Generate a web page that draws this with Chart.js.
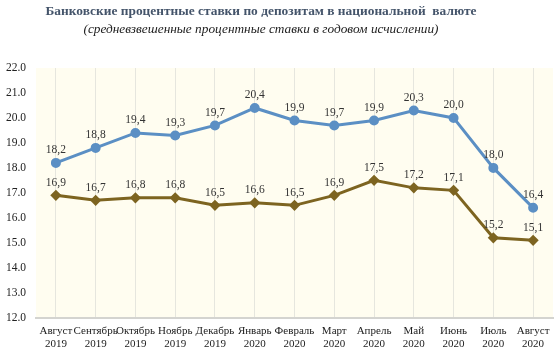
<!DOCTYPE html>
<html>
<head>
<meta charset="utf-8">
<script src="https://cdn.jsdelivr.net/npm/chart.js@4.4.0/dist/chart.umd.min.js"></script>
<style>
  html, body { margin: 0; padding: 0; background: #fff; }
  #wrap { width: 560px; height: 362px; }
</style>
</head>
<body>
<div id="wrap"><canvas id="myChart"></canvas></div>
<script>
// data
const months = [
  ["Август", "2019"], ["Сентябрь", "2019"], ["Октябрь", "2019"], ["Ноябрь", "2019"],
  ["Декабрь", "2019"], ["Январь", "2020"], ["Февраль", "2020"], ["Март", "2020"],
  ["Апрель", "2020"], ["Май", "2020"], ["Июнь", "2020"], ["Июль", "2020"], ["Август", "2020"]
];
const seriesBlue = [18.2, 18.8, 19.4, 19.3, 19.7, 20.4, 19.9, 19.7, 19.9, 20.3, 20.0, 18.0, 16.4];
const seriesBrown = [16.9, 16.7, 16.8, 16.8, 16.5, 16.6, 16.5, 16.9, 17.5, 17.2, 17.1, 15.2, 15.1];
const yMin = 12;
const yMax = 22;
const titleText = "Банковские процентные ставки по депозитам в национальной  валюте";
const subtitleText = "(средневзвешенные процентные ставки в годовом исчислении)";

const serif = "Liberation Serif";

// cream plot background
const plotBg = {
  id: "plotBg",
  beforeDraw(chart) {
    const { ctx, chartArea: a } = chart;
    ctx.save();
    ctx.fillStyle = "#FFFDF0";
    ctx.fillRect(a.left, a.top, a.right - a.left, a.bottom - a.top);
    ctx.restore();
  },
};

// heading, centred a bit left of the canvas middle like the original
const heading = {
  id: "heading",
  afterDraw(chart) {
    const { ctx } = chart;
    ctx.save();
    ctx.textAlign = "center";
    ctx.textBaseline = "middle";
    ctx.fillStyle = "#44546A";
    ctx.font = "bold 13.4px " + serif;
    ctx.fillText(titleText, 261, 12);
    ctx.fillStyle = "#222222";
    ctx.font = "italic 13.3px " + serif;
    ctx.fillText(subtitleText, 261, 30);
    ctx.restore();
  },
};

// value labels above the points
const valueLabels = {
  id: "valueLabels",
  afterDatasetsDraw(chart) {
    const { ctx } = chart;
    ctx.save();
    ctx.font = "11.5px " + serif;
    ctx.fillStyle = "#333333";
    ctx.textAlign = "center";
    ctx.textBaseline = "bottom";
    chart.data.datasets.forEach((ds, i) => {
      chart.getDatasetMeta(i).data.forEach((pt, j) => {
        ctx.fillText(ds.data[j].toFixed(1).replace(".", ","), pt.x, pt.y - 7);
      });
    });
    ctx.restore();
  },
};

const config = {
  type: "line",
  data: {
    labels: months,
    datasets: [
      {
        data: seriesBlue,
        borderColor: "#5B8FC4",
        backgroundColor: "#5B8FC4",
        borderWidth: 3,
        pointRadius: 3.5,
        pointStyle: "circle",
        tension: 0,
      },
      {
        data: seriesBrown,
        borderColor: "#7D6420",
        backgroundColor: "#7D6420",
        borderWidth: 3,
        pointRadius: 3.5,
        pointStyle: "rectRot",
        tension: 0,
      },
    ],
  },
  options: {
    responsive: true,
    maintainAspectRatio: false,
    animation: false,
    layout: {
      padding: { left: 0, right: 5, top: 68, bottom: 5 },
    },
    scales: {
      x: {
        offset: true,
        grid: {
          offset: false,
          color: "#E6E6DE",
          drawTicks: false,
        },
        border: { color: "#D4D4D0", width: 2 },
        ticks: {
          color: "#222222",
          padding: 7,
          maxRotation: 0,
          autoSkip: false,
          font: { family: serif, size: 11, lineHeight: 1.15 },
        },
      },
      y: {
        min: yMin,
        max: yMax,
        afterFit(scale) { scale.width = 36; },
        grid: { display: false },
        border: { display: false },
        ticks: {
          stepSize: 1,
          color: "#222222",
          padding: 2,
          font: { family: serif, size: 11.5 },
          callback: (v) => v.toFixed(1),
        },
      },
    },
    plugins: {
      legend: { display: false },
      tooltip: { enabled: false },
      title: { display: false },
    },
  },
  plugins: [plotBg, heading, valueLabels],
};

const myChart = new Chart(document.getElementById("myChart"), config);
</script>
</body>
</html>
